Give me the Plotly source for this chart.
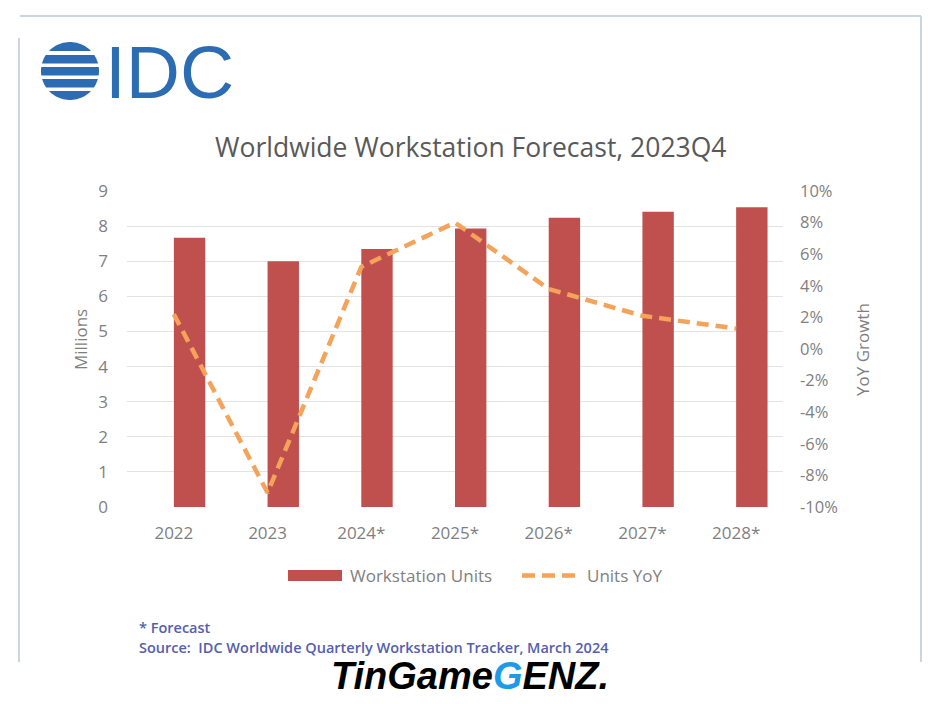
import numpy as np
import plotly.graph_objects as go

# ---------------- data ----------------
years = ["2022", "2023", "2024*", "2025*", "2026*", "2027*", "2028*"]
units_millions = [7.67, 7.00, 7.35, 7.93, 8.24, 8.41, 8.54]
yoy_pct = [2.2, -9.1, 5.2, 8.0, 3.8, 2.1, 1.3]
left_ticks = [0, 1, 2, 3, 4, 5, 6, 7, 8, 9]
right_ticks = [-10, -8, -6, -4, -2, 0, 2, 4, 6, 8, 10]
right_tick_labels = [f"{v}%" for v in right_ticks]

W, H = 940, 704
L, R, T, B = 127, 783, 191, 507  # plot area in pixels


def px(x):
    return (x - L) / (R - L)


def py(y):
    return (B - y) / (B - T)


BAR = "#c0504d"
LINE = "#f3a35a"
GRAY = "#7f7f7f"
FONT = "Open Sans"
NOTE = "#5460ad"

fig = go.Figure()
fig.add_trace(go.Bar(
    x=years, y=units_millions, name="Workstation Units",
    marker=dict(color=BAR, line=dict(width=0)),
    width=0.335, offset=0.0, showlegend=False,
))
fig.add_trace(go.Scatter(
    x=years, y=yoy_pct, name="Units YoY", yaxis="y2", mode="lines",
    line=dict(color=LINE, width=4.5, dash="12px,7px"), showlegend=False,
))

shapes = []
# frame lines
frame = "#c9d5e3"
shapes.append(dict(type="line", xref="paper", yref="paper", x0=px(20), x1=px(921), y0=py(16), y1=py(16),
                   line=dict(color=frame, width=2)))
shapes.append(dict(type="line", xref="paper", yref="paper", x0=px(19), x1=px(19), y0=py(38), y1=py(662),
                   line=dict(color=frame, width=2)))
shapes.append(dict(type="line", xref="paper", yref="paper", x0=px(921), x1=px(921), y0=py(16), y1=py(662),
                   line=dict(color=frame, width=2)))

# IDC globe: horizontal bands clipped to a circle
cx, cy, r = 70, 71, 29
bands = [(-29, -20), (-16, -7.5), (-4, 4.5), (8, 16.5), (20, 29)]
for b0, b1 in bands:
    ys = np.linspace(b0, b1, 12)
    ys = np.clip(ys, -r + 0.01, r - 0.01)
    xs = np.sqrt(np.maximum(r * r - ys * ys, 0))
    pts = [(cx - xx, cy + yy) for xx, yy in zip(xs, ys)] + [(cx + xx, cy + yy) for xx, yy in zip(xs[::-1], ys[::-1])]
    path = "M " + " L ".join(f"{px(a):.5f},{py(b):.5f}" for a, b in pts) + " Z"
    shapes.append(dict(type="path", xref="paper", yref="paper", path=path,
                       fillcolor="#2b6cb3", line=dict(width=0)))

# manual legend (Excel-style long swatches)
shapes.append(dict(type="rect", xref="paper", yref="paper", x0=px(288), x1=px(342), y0=py(570), y1=py(581),
                   fillcolor=BAR, line=dict(width=0)))
shapes.append(dict(type="line", xref="paper", yref="paper", x0=px(522), x1=px(576), y0=py(575.5), y1=py(575.5),
                   line=dict(color=LINE, width=4.5, dash="13px,7px")))

annotations = [
    dict(text="IDC", x=px(103), y=py(72), xref="paper", yref="paper", xanchor="left", yanchor="middle",
         showarrow=False, font=dict(family="Liberation Sans", size=75, color="#2b6cb3")),
    dict(text="Worldwide Workstation Forecast, 2023Q4", x=px(470), y=py(147), xref="paper", yref="paper",
         xanchor="center", yanchor="middle", showarrow=False,
         font=dict(family=FONT, size=26.5, color="#595959")),
    dict(text="Millions", x=px(80), y=py(340), xref="paper", yref="paper", textangle=-90,
         xanchor="center", yanchor="middle", showarrow=False, font=dict(family=FONT, size=17, color=GRAY)),
    dict(text="YoY Growth", x=px(862), y=py(350), xref="paper", yref="paper", textangle=-90,
         xanchor="center", yanchor="middle", showarrow=False, font=dict(family=FONT, size=17, color=GRAY)),
    dict(text="Workstation Units", x=px(348), y=py(575), xref="paper", yref="paper", xanchor="left",
         yanchor="middle", showarrow=False, font=dict(family=FONT, size=17, color=GRAY)),
    dict(text="Units YoY", x=px(585), y=py(575), xref="paper", yref="paper", xanchor="left",
         yanchor="middle", showarrow=False, font=dict(family=FONT, size=17, color=GRAY)),
    dict(text="* Forecast", x=px(137), y=py(627), xref="paper", yref="paper", xanchor="left",
         yanchor="middle", showarrow=False, font=dict(family=FONT, size=14.5, color=NOTE, weight=600)),
    dict(text="Source:  IDC Worldwide Quarterly Workstation Tracker, March 2024", x=px(137), y=py(647),
         xref="paper", yref="paper", xanchor="left", yanchor="middle",
         showarrow=False, font=dict(family=FONT, size=14.5, color=NOTE, weight=600)),
    dict(text="<b><i>TinGame<span style='color:#1e9be8'>G</span>ENZ.</i></b>", x=px(470), y=py(676),
         xref="paper", yref="paper", xanchor="center", yanchor="middle",
         showarrow=False, font=dict(family="Liberation Sans", size=38, color="#000000")),
]

fig.update_layout(
    width=W, height=H,
    margin=dict(l=L, r=W - R, t=T, b=H - B, pad=0),
    paper_bgcolor="white", plot_bgcolor="white",
    font=dict(family=FONT, size=16, color=GRAY),
    bargap=0.665,
    showlegend=False,
    xaxis=dict(type="category", range=[-0.5, 6.5], showgrid=False, showline=False, zeroline=False,
               ticks="", tickfont=dict(size=17, color=GRAY), ticklabelstandoff=14),
    yaxis=dict(range=[0, 9], tickvals=left_ticks, showgrid=True, gridcolor="#e3e3e3", gridwidth=1,
               zeroline=False, showline=False, ticks="", tickfont=dict(size=17, color=GRAY),
               ticklabelstandoff=18),
    yaxis2=dict(range=[-10, 10], tickvals=right_ticks, ticktext=right_tick_labels, overlaying="y",
                side="right", showgrid=False, zeroline=False, showline=False, ticks="",
                tickfont=dict(size=16.5, color=GRAY), ticklabelstandoff=16),
    shapes=shapes,
    annotations=annotations,
)

fig.write_html("out.html")
